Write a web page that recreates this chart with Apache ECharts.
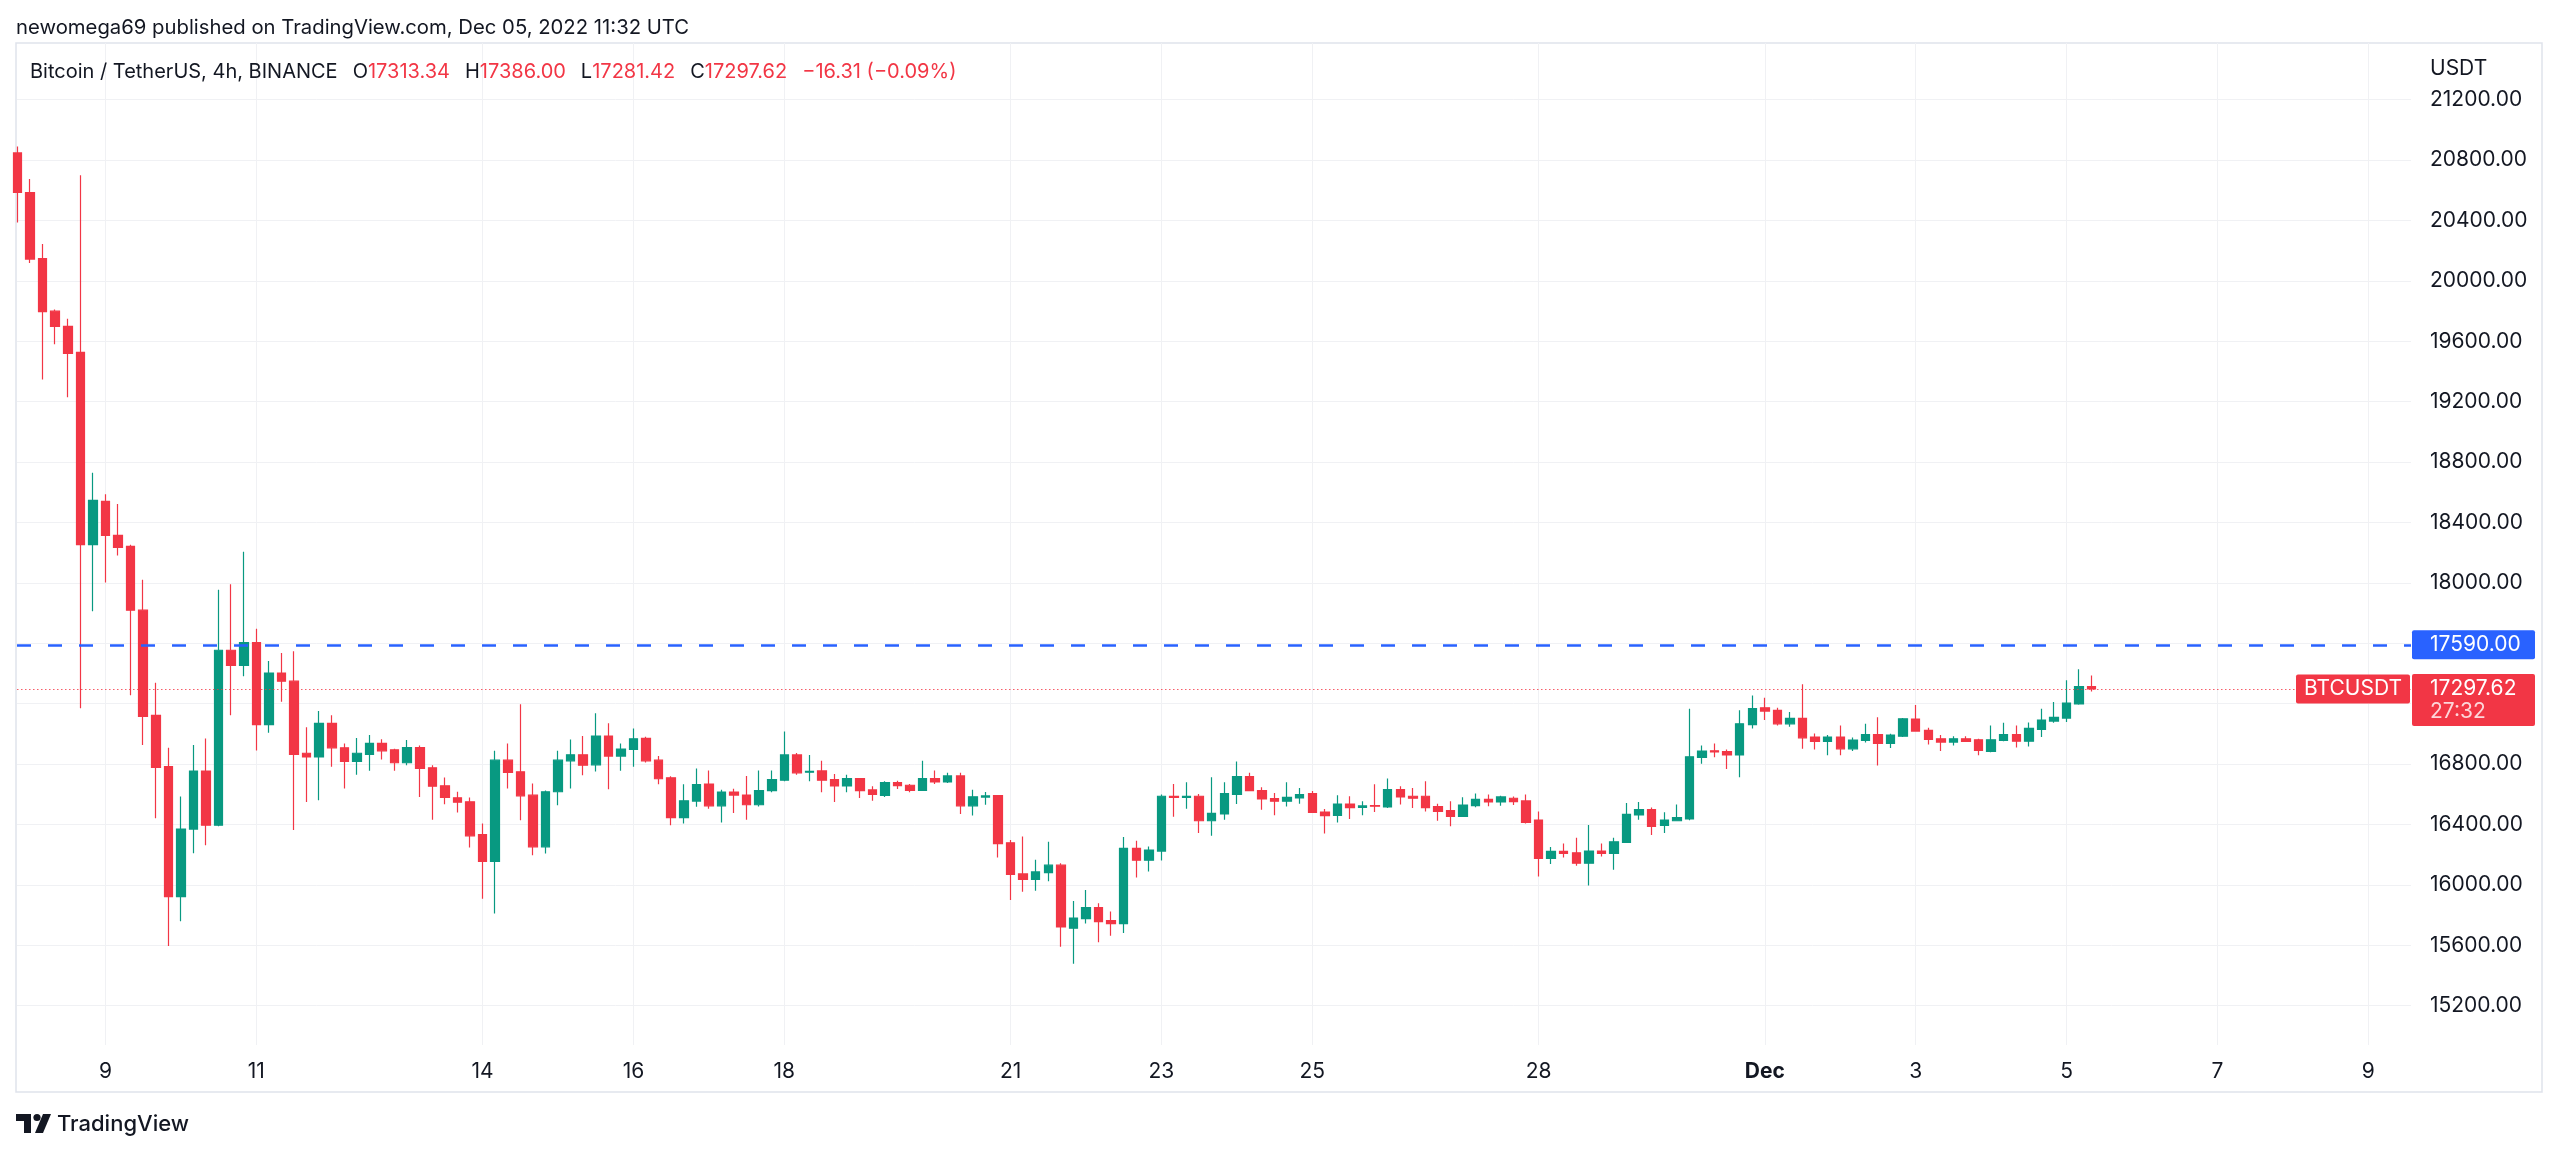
<!DOCTYPE html>
<html><head><meta charset="utf-8">
<script src="https://cdn.jsdelivr.net/npm/echarts@6/dist/echarts.min.js"></script>
<style>html,body{margin:0;padding:0;background:#fff}#c{width:2560px;height:1152px}</style>
</head><body><div id="c"></div>
<script>
// ---------- DATA ----------
const startTime = '2022-11-07T20:00:00Z';   // first (partly cut) 4h bar
const barHours = 4;
const opens = [20847,20585,20147,19799,19699,19527,18253,18540,18314,18242,17819,17123,16783,15922,16370,16754,16395,17554,17453,17604,17062,17403,17349,16872,16847,17070,16908,16818,
16864,16937,16895,16809,16910,16776,16656,16577,16550,16334,16155,16826,16749,16594,16252,16617,16822,16862,16795,16986,16853,16897,16970,16826,16709,16446,16555,
16668,16524,16615,16595,16531,16624,16693,16861,16746,16755,16697,16655,16704,16629,16593,16677,16660,16626,16704,16682,16722,16524,16582,16591,16279,16073,16037,
16082,16131,15713,15777,15850,15764,15744,16242,16164,16224,16587,16580,16587,16425,16470,16600,16718,16625,16571,16554,16576,16605,16483,16461,16536,16514,16525,
16516,16631,16587,16587,16518,16492,16454,16525,16567,16549,16574,16556,16430,16175,16222,16213,16144,16224,16209,16282,16463,16498,16394,16425,16437,16844,16888,
16883,16861,17061,17173,17156,17067,17103,16979,16950,16979,16901,16957,16996,16937,16985,17098,17023,16968,16946,16968,16961,16884,16957,16996,16952,17030,17085,17105,17198,17313.34];
const closes = [20585,20144,19796,19699,19519,18253,18547,18314,18235,17819,17116,16779,15922,16370,16754,16395,17554,17453,17604,17062,17403,17349,16865,16847,17070,16908,16818,16872,
16937,16888,16809,16910,16771,16654,16579,16548,16325,16155,16826,16745,16590,16252,16617,16826,16862,16793,16986,16853,16900,16968,16822,16703,16446,16557,16665,
16524,16615,16595,16531,16624,16697,16861,16742,16752,16693,16655,16704,16624,16600,16677,16657,16626,16704,16682,16722,16524,16584,16589,16274,16070,16037,16086,
16131,15722,15781,15850,15757,15744,16242,16164,16231,16587,16580,16587,16425,16474,16605,16718,16625,16569,16554,16580,16598,16481,16459,16536,16512,16523,16521,
16631,16583,16574,16512,16487,16454,16529,16567,16549,16583,16552,16414,16175,16222,16209,16144,16224,16209,16286,16467,16498,16388,16430,16445,16848,16886,16881,
16861,17067,17167,17151,17067,17103,16974,16950,16979,16901,16959,16996,16937,16992,17100,17019,16963,16946,16968,16950,16890,16961,16996,16952,17036,17092,17109,17204,17313.93,17297.62];
const lows = [20387,20118,19347,19580,19229,17170,17812,18002,18182,17256,16926,16442,15595,15760,16209,16262,16388,17123,17382,16890,17008,17213,16363,16549,16560,16783,16639,16729,
16756,16831,16756,16793,16583,16431,16535,16480,16247,15909,15810,16639,16429,16197,16208,16528,16639,16727,16751,16634,16756,16782,16811,16667,16395,16407,16517,
16504,16414,16476,16431,16520,16613,16686,16730,16686,16613,16549,16613,16575,16558,16582,16635,16613,16624,16668,16675,16469,16460,16531,16181,15900,15955,15962,
16025,15591,15478,15744,15620,15664,15682,16049,16089,16162,16452,16505,16344,16326,16432,16536,16620,16498,16461,16520,16538,16476,16341,16414,16437,16461,16483,
16510,16532,16510,16487,16425,16388,16450,16514,16521,16525,16529,16406,16056,16138,16182,16127,15996,16189,16100,16282,16432,16330,16344,16421,16428,16802,16846,
16768,16713,17036,17092,17056,17047,16901,16897,16859,16859,16886,16943,16791,16906,16979,17016,16930,16886,16923,16946,16859,16879,16952,16910,16917,16979,17074,17078,17193,17281.42];
const highs = [20890,20674,20244,19810,19749,20700,18730,18587,18522,18253,18020,17339,16908,16585,16926,16969,17955,17991,18207,17697,17482,17536,17547,17044,17152,17123,16937,16973,
16992,16964,16902,16959,16923,16793,16712,16617,16579,16407,16888,16937,17196,16672,16625,16888,16963,16986,17136,17071,16937,17036,16981,16853,16720,16667,16771,
16757,16631,16637,16722,16757,16757,17016,16874,16861,16823,16735,16730,16708,16653,16686,16690,16668,16823,16757,16742,16742,16631,16615,16595,16298,16321,16166,
16286,16144,15894,15967,15879,15824,16317,16293,16255,16598,16669,16680,16602,16713,16680,16817,16742,16647,16609,16680,16642,16622,16503,16594,16587,16554,16667,
16704,16653,16642,16687,16538,16554,16580,16605,16598,16591,16585,16598,16487,16251,16275,16313,16397,16275,16313,16543,16549,16512,16481,16532,17167,16923,16937,
16897,17156,17255,17240,17173,17145,17328,17003,16992,17056,16976,17067,17111,17001,17105,17191,17041,16992,16985,16985,16968,17056,17074,17056,17076,17167,17211,17355,17428,17386.00];

const tickDates  = ['2022-11-09','2022-11-11','2022-11-14','2022-11-16','2022-11-18','2022-11-21','2022-11-23','2022-11-25','2022-11-28','2022-12-01','2022-12-03','2022-12-05','2022-12-07','2022-12-09'];
const tickLabels = ['9','11','14','16','18','21','23','25','28','Dec','3','5','7','9'];
const priceGrid   = [15200,15600,16000,16400,16800,17200,17600,18000,18400,18800,19200,19600,20000,20400,20800,21200];
const priceLabels = [15200,15600,16000,16400,16800,18000,18400,18800,19200,19600,20000,20400,20800,21200];
const alertLevel = 17590;
const symbolName = 'BTCUSDT';
const timeLeft = '27:32';
const currency = 'USDT';
const headerTitle = 'Bitcoin / TetherUS, 4h, BINANCE';
const publishLine = 'newomega69 published on TradingView.com, Dec 05, 2022 11:32 UTC';

// ---------- BUILD ----------
const UP = '#089981', DOWN = '#F23645', TXT = '#131722';
const FONT = 'Inter, "Noto Sans", sans-serif';
const FS = 21;
const barMs = barHours * 3600e3;
const t0 = Date.parse(startTime);
const tickIdx = tickDates.map(d => (Date.parse(d + 'T00:00:00Z') - t0) / barMs);
const labelByIdx = {};
tickIdx.forEach((v, i) => labelByIdx[v] = tickLabels[i]);
const candleData = opens.map((o, i) => [i, o, closes[i], lows[i], highs[i]]);
const n = opens.length;
const lastO = opens[n-1], lastH = highs[n-1], lastL = lows[n-1], lastC = closes[n-1];
const chg = lastC - closes[n-2];
const chgPct = chg / closes[n-2] * 100;
const fmtSigned = v => (v < 0 ? '\u2212' : '+') + Math.abs(v).toFixed(2);
const xMin = -0.04, xMax = 190.4, yMin = 14940, yMax = 21575;

const chart = echarts.init(document.getElementById('c'), null, {renderer: 'canvas'});
const option = {
  animation: false,
  backgroundColor: '#ffffff',
  grid: {left: 17, right: 149, top: 43, bottom: 107, containLabel: false, outerBoundsMode: 'none'},
  xAxis: {
    type: 'value', min: xMin, max: xMax,
    axisLine: {show: false},
    axisTick: {show: false, customValues: tickIdx},
    splitLine: {show: true, lineStyle: {color: '#F0F1F4', width: 1}},
    axisLabel: {
      customValues: tickIdx, margin: 16, color: TXT, fontSize: FS, fontFamily: FONT,
      formatter: v => { const l = labelByIdx[Math.round(v)] || ''; return l === 'Dec' ? '{b|Dec}' : l; },
      rich: {b: {fontWeight: 'bold', fontSize: FS, fontFamily: FONT, color: TXT}}
    }
  },
  yAxis: {
    type: 'value', position: 'right', min: yMin, max: yMax, scale: true,
    axisLine: {show: false},
    axisTick: {show: false, customValues: priceGrid},
    splitLine: {show: true, lineStyle: {color: '#F0F1F4', width: 1}},
    axisLabel: {customValues: priceLabels, margin: 19, color: TXT, fontSize: FS, fontFamily: FONT,
      formatter: v => Number(v).toFixed(2)}
  },
  series: [{
    type: 'candlestick',
    data: candleData,
    encode: {x: 0, y: [1, 2, 3, 4]},
    barWidth: 9,
    clip: true,
    itemStyle: {color: UP, color0: DOWN, borderColor: UP, borderColor0: DOWN, borderWidth: 1.2},
    markLine: {
      silent: true, symbol: ['none', 'none'], animation: false,
      label: {show: false},
      data: [
        {yAxis: alertLevel, lineStyle: {color: '#2962FF', width: 2.5, type: [14, 17]}},
        {yAxis: lastC, lineStyle: {color: DOWN, width: 1, type: [1.5, 2.5], opacity: 0.8}}
      ]
    }
  }]
};
chart.setOption(option);

const rightX = chart.convertToPixel({xAxisIndex: 0}, xMax);
const yAlert = chart.convertToPixel({yAxisIndex: 0}, alertLevel);
const yLast = chart.convertToPixel({yAxisIndex: 0}, lastC);
const txt = (x, y, s, o) => Object.assign({type: 'text', x, y, z: 120,
  style: Object.assign({text: s, fill: TXT, fontSize: FS, fontFamily: FONT, align: 'left', verticalAlign: 'middle'}, o || {})});

chart.setOption({
  graphic: [
    {type: 'rect', z: -1, shape: {x: 16, y: 43, width: 2526, height: 1049}, style: {fill: 'none', stroke: '#E0E3EB', lineWidth: 1.5}},
    txt(16, 27.5, publishLine, {fontSize: 20.3}),
    {type: 'text', x: 30, y: 72, z: 120, style: {
      text: '{n|' + headerTitle + '}{s| }{n|O}{r|' + lastO.toFixed(2) + '}{s| }{n|H}{r|' + lastH.toFixed(2) + '}{s| }{n|L}{r|' + lastL.toFixed(2) +
            '}{s| }{n|C}{r|' + lastC.toFixed(2) + '}{s| }{r|' + fmtSigned(chg) + ' (' + fmtSigned(chgPct) + '%)}',
      verticalAlign: 'middle', align: 'left',
      rich: {
        n: {fill: TXT, fontSize: 20, fontFamily: FONT},
        r: {fill: DOWN, fontSize: 20, fontFamily: FONT},
        s: {fontSize: 20, width: 15}
      }}},
    txt(rightX + 19, 69, currency),
    // alert box
    {type: 'rect', z: 110, shape: {x: rightX + 1, y: yAlert - 14.5, width: 123, height: 29, r: 2}, style: {fill: '#2962FF'}},
    txt(rightX + 19, yAlert, alertLevel.toFixed(2), {fill: '#ffffff'}),
    // last price box
    {type: 'rect', z: 110, shape: {x: rightX + 1, y: yLast - 15, width: 123, height: 52, r: 2}, style: {fill: DOWN}},
    txt(rightX + 19, yLast, lastC.toFixed(2), {fill: '#ffffff'}),
    txt(rightX + 19, yLast + 23, timeLeft, {fill: 'rgba(255,255,255,0.8)'}),
    // symbol box
    {type: 'rect', z: 110, shape: {x: rightX - 115, y: yLast - 14.5, width: 114, height: 29, r: 2}, style: {fill: DOWN}},
    txt(rightX - 58, yLast, symbolName, {fill: '#ffffff', align: 'center'}),
    // TradingView logo
    {type: 'polygon', z: 120, shape: {points: [[16,1114],[31,1114],[31,1133],[24,1133],[24,1121],[16,1121]]}, style: {fill: TXT}},
    {type: 'circle', z: 120, shape: {cx: 37, cy: 1117.5, r: 3.6}, style: {fill: TXT}},
    {type: 'polygon', z: 120, shape: {points: [[43,1114],[51,1114],[43,1133],[35,1133]]}, style: {fill: TXT}},
    txt(57, 1124, 'TradingView', {fontSize: 22, fontWeight: 500})
  ]
});
</script></body></html>
